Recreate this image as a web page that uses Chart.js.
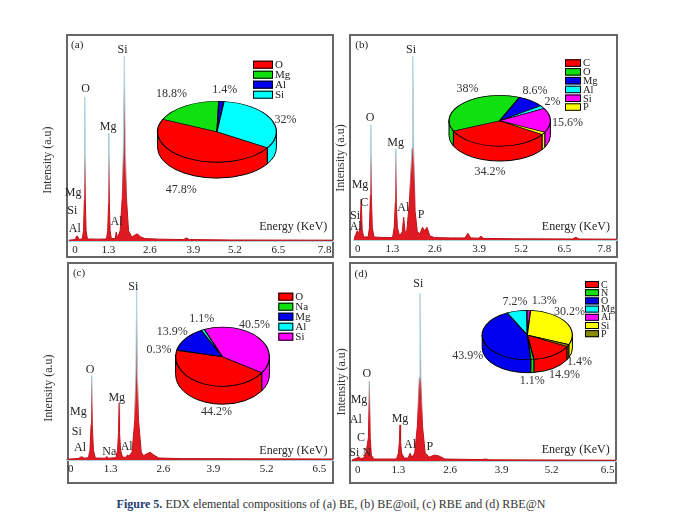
<!DOCTYPE html>
<html><head><meta charset="utf-8">
<script src="https://cdn.jsdelivr.net/npm/chart.js@4.4.1/dist/chart.umd.min.js"></script>
<style>
html,body{margin:0;padding:0;background:#fff;}
#wrap{position:relative;width:680px;height:525px;overflow:hidden;font-family:"Liberation Serif","Times New Roman",serif;}
.panel{position:absolute;border:2px solid #666;box-sizing:border-box;}
canvas{position:absolute;}
#cap{position:absolute;left:0;width:662px;top:497px;text-align:center;font-size:12px;line-height:14px;color:#333;}
#cap b{color:#1f3b73;}
</style></head><body>
<div id="wrap">
 <div class="panel" style="left:66px;top:34px;width:268px;height:224px"></div>
 <div class="panel" style="left:349px;top:34px;width:269px;height:224px"></div>
 <div class="panel" style="left:67px;top:262px;width:267px;height:222px"></div>
 <div class="panel" style="left:349px;top:262px;width:268px;height:222px"></div>
 <div id="cap"><b>Figure 5.</b> EDX elemental compositions of (a) BE, (b) BE@oil, (c) RBE and (d) RBE@N</div>
</div>
<script>
// ---------- tick labels (keV) ----------
const xTicksAB = [0, 1.3, 2.6, 3.9, 5.2, 6.5, 7.8];
const xTicksCD = [0, 1.3, 2.6, 3.9, 5.2, 6.5];

// ---------- spectra: [energy keV, intensity a.u. (0-100 of panel height)] ----------
const spectrumA = [[0,0.4],[0.2,0.7],[0.23,2.3],[0.27,2.3],[0.3,0.8],[0.41,1.0],[0.45,5],[0.475,20],[0.49,69.9],[0.505,20],[0.53,5],[0.57,1.0],[0.9,0.9],[1.16,1.0],[1.2,5],[1.225,18],[1.236,52.4],[1.25,18],[1.275,5],[1.31,1.2],[1.43,1.2],[1.465,4.4],[1.5,1.5],[1.585,5],[1.65,21],[1.685,47],[1.715,89.7],[1.745,47],[1.78,21],[1.845,5],[1.95,1.8],[2.0,2.5],[2.11,3.5],[2.22,2.0],[2.35,1.2],[2.8,0.9],[3.55,0.7],[3.64,1.5],[3.73,0.7],[5.0,0.5],[8.18,0.4]];
const spectrumB = [[0,0.5],[0.05,2.5],[0.1,4.5],[0.14,3],[0.19,6],[0.224,20],[0.255,5],[0.3,1.5],[0.44,1.5],[0.48,6],[0.51,22],[0.525,56.2],[0.54,22],[0.57,6],[0.62,1.5],[0.9,1.2],[1.2,1.2],[1.25,6],[1.285,18],[1.3,44.5],[1.315,18],[1.35,6],[1.42,2],[1.5,4],[1.545,11.1],[1.59,4],[1.64,4],[1.72,18],[1.805,45],[1.83,89.6],[1.855,45],[1.9,14],[1.97,4],[2.05,3],[2.13,6.2],[2.2,4.5],[2.27,6.2],[2.36,2],[2.5,1.2],[3.0,1.0],[3.45,1.0],[3.54,3.3],[3.63,1.0],[3.87,0.9],[3.95,1.8],[4.03,0.8],[5.0,0.6],[6.8,0.5],[6.9,1.3],[7.0,0.5],[8.18,0.4]];
const spectrumC = [[0,0.4],[0.3,0.8],[0.38,1.7],[0.45,0.9],[0.56,1.2],[0.6,5],[0.63,18],[0.645,42.8],[0.66,18],[0.69,5],[0.74,1],[1.0,0.9],[1.04,1.8],[1.08,0.9],[1.28,1.2],[1.32,5],[1.347,14],[1.36,28.8],[1.373,14],[1.4,5],[1.45,1.5],[1.53,1.3],[1.577,2.5],[1.62,2],[1.7,4],[1.77,20],[1.8,45],[1.82,89.7],[1.84,45],[1.87,20],[1.94,4],[2.0,2.2],[2.07,3],[2.17,3.9],[2.27,2.5],[2.4,1],[3.0,0.7],[6.95,0.5]];
const spectrumD = [[0,0.5],[0.13,1.5],[0.18,2.2],[0.23,1.2],[0.3,1.5],[0.34,3],[0.37,5],[0.425,12],[0.448,40.4],[0.47,12],[0.5,3],[0.56,1],[1.15,1],[1.2,4],[1.225,10],[1.24,18.2],[1.255,10],[1.28,4],[1.35,1.5],[1.45,1.5],[1.5,3.9],[1.55,1.8],[1.62,4],[1.69,18],[1.735,42],[1.756,84.7],[1.78,42],[1.82,18],[1.89,4],[2.0,2],[2.13,3.0],[2.25,2.5],[2.4,1.0],[3.35,0.7],[3.45,1.0],[3.55,0.6],[6.82,0.4]];

// ---------- peak annotations: [text, keV, intensity] ----------
const notesA = [['(a)',0.254,95.1],['Si',1.66,92.7],['O',0.514,74.1],['Mg',1.214,55.5],['Mg',0.13,23.4],['Si',0.10,14.6],['Al',0.18,5.8],['Al',1.475,9.4],['Energy (KeV)',6.95,6.65]];
const notesB = [['(b)',0.24,95.1],['Si',1.774,93.0],['O',0.498,59.4],['Mg',1.297,47.5],['Mg',0.187,26.8],['C',0.32,18.2],['Si',0.031,11.7],['Al',0.053,6.5],['Al',1.534,15.8],['P',2.085,12.5],['Energy (KeV)',6.90,6.2]];
const notesC = [['(c)',0.314,94.8],['Si',1.733,88.0],['O',0.60,46.0],['Mg',1.30,31.6],['Mg',0.295,24.2],['Si',0.254,14.4],['Al',0.34,6.2],['Na',1.106,4.2],['Al',1.56,6.75],['Energy (KeV)',5.915,4.7]];
const notesD = [['(d)',0.232,94.4],['Si',1.712,89.7],['O',0.38,43.8],['Mg',0.18,30.8],['Al',0.096,20.7],['C',0.232,11.5],['Si',0.06,3.9],['N',0.38,3.9],['Mg',1.24,21.1],['Al',1.50,8.4],['P',2.01,7.2],['Energy (KeV)',5.78,5.6]];

// ---------- pie compositions (%) ----------
const pieLabelsA = ['O','Mg','Al','Si'];
const pieValuesA = [47.8, 18.8, 1.4, 32];
const pieTextA = ['47.8%','18.8%','1.4%','32%'];
const pieLabelsB = ['C','O','Mg','Al','Si','P'];
const pieValuesB = [34.2, 38, 8.6, 2, 15.6, 1.6];
const pieTextB = ['34.2%','38%','8.6%','2%','15.6%',''];
const pieLabelsC = ['O','Na','Mg','Al','Si'];
const pieValuesC = [44.2, 0.3, 13.9, 1.1, 40.5];
const pieTextC = ['44.2%','0.3%','13.9%','1.1%','40.5%'];
const pieLabelsD = ['C','N','O','Mg','Al','Si','P'];
const pieValuesD = [14.9, 1.1, 43.9, 7.2, 1.3, 30.2, 1.4];
const pieTextD = ['14.9%','1.1%','43.9%','7.2%','1.3%','30.2%','1.4%'];

const RED='#ff0000', GRN='#10e010', BLU='#0000ee', CYA='#00ffff', MAG='#ff00ff', YEL='#ffff00', OLV='#8b8b00';
const pieColorsA = [RED, GRN, BLU, CYA];
const pieColorsB = [RED, GRN, BLU, CYA, MAG, YEL];
const pieColorsC = [RED, GRN, BLU, CYA, MAG];
const pieColorsD = [RED, GRN, BLU, CYA, MAG, YEL, OLV];

Chart.defaults.font.family = '"Liberation Serif", "Times New Roman", serif';
Chart.defaults.color = '#222';
const wrap = document.getElementById('wrap');
const SERIF = '"Liberation Serif", "Times New Roman", serif';

function lineGradient(chart) {
  const a = chart.chartArea;
  if (!a) return '#c01018';
  const g = chart.ctx.createLinearGradient(0, a.bottom, 0, a.top);
  g.addColorStop(0, '#b8121a');
  g.addColorStop(0.2, '#c8151d');
  g.addColorStop(0.42, '#9fcbd5');
  g.addColorStop(1, '#b5dce4');
  return g;
}

function textPlugin(p) {
  return {
    id: 'edxText',
    beforeDraw(chart) {
      // small horizontal nudges of the tick labels, as placed in the original figure
      const s = chart.scales.x;
      if (!s || typeof s.getLabelItems !== 'function') return;
      try {
        const items = s.getLabelItems(chart.chartArea);
        items.forEach((it, i) => {
          const n = p.tickNudge[i] || 0;
          if (it.options && it.options.translation) it.options.translation[0] += n;
        });
      } catch (e) {}
    },
    afterDraw(chart) {
      const {ctx, scales} = chart;
      const x = scales.x, y = scales.y;
      ctx.save();
      ctx.fillStyle = '#262626';
      ctx.textAlign = 'center';
      ctx.textBaseline = 'middle';
      p.notes.forEach(([t, kv, val]) => {
        ctx.font = (/^\([a-d]\)$/.test(t) ? '11px ' : '12px ') + SERIF;
        ctx.fillText(t, x.getPixelForValue(kv), y.getPixelForValue(val));
      });
      const tx = x.getPixelForValue(p.yTitle[0]), ty = y.getPixelForValue(p.yTitle[1]);
      ctx.translate(tx, ty);
      ctx.rotate(-Math.PI / 2);
      ctx.font = '12px ' + SERIF;
      ctx.fillStyle = '#333';
      ctx.fillText('Intensity (a.u)', 0, 0);
      ctx.restore();
    }
  };
}

function makeSpectrum(p) {
  const padL = 30, padR = 12, axH = 20;
  const cv = document.createElement('canvas');
  const w = p.right - p.left + padL + padR, h = p.base - p.top + axH;
  cv.width = w; cv.height = h;
  cv.style.left = (p.left - padL) + 'px';
  cv.style.top = p.top + 'px';
  cv.style.width = w + 'px'; cv.style.height = h + 'px';
  wrap.appendChild(cv);
  new Chart(cv, {
    type: 'line',
    data: { datasets: [{
      data: p.spectrum.map(([e, v]) => ({x: e, y: v})),
      borderColor: (c) => lineGradient(c.chart),
      backgroundColor: '#e01a22',
      borderWidth: 1,
      fill: 'origin',
      pointRadius: 0,
      tension: 0
    }]},
    options: {
      responsive: false, animation: false, events: [],
      layout: { padding: { left: padL, right: padR, top: 0, bottom: 0 } },
      plugins: { legend: { display: false }, tooltip: { enabled: false } },
      scales: {
        x: {
          type: 'linear', min: 0, max: p.max,
          afterBuildTicks: (s) => { s.ticks = p.ticks.map(v => ({ value: v })); },
          afterFit: (s) => { s.height = axH; },
          grid: { display: false, drawTicks: false },
          border: { display: true, color: '#a7d2de', width: 2 },
          ticks: { padding: 3, autoSkip: false, maxRotation: 0, color: '#222',
                   font: { size: 11, family: SERIF }, callback: (v) => String(v) }
        },
        y: { display: false, min: 0, max: 100 }
      }
    },
    plugins: [textPlugin(p)]
  });
}

function pie3d(p, offX, offY) {
  const TWO = Math.PI * 2;
  return {
    id: 'pie3d',
    beforeDatasetsDraw(chart) {
      const ctx = chart.ctx, meta = chart.getDatasetMeta(0);
      const k = p.k, d = p.depth;
      ctx.save();
      ctx.lineWidth = 1; ctx.strokeStyle = '#000'; ctx.lineJoin = 'round';
      meta.data.forEach((arc) => {
        let s = arc.startAngle, e = arc.endAngle;
        const rx = arc.outerRadius, ry = rx * k, x = arc.x, y = arc.y;
        while (s < 0) { s += TWO; e += TWO; }
        while (s >= TWO) { s -= TWO; e -= TWO; }
        [[0, Math.PI], [TWO, TWO + Math.PI]].forEach(([lo, hi]) => {
          const a0 = Math.max(s, lo), a1 = Math.min(e, hi);
          if (a1 - a0 <= 1e-6) return;
          ctx.beginPath();
          ctx.ellipse(x, y, rx, ry, 0, a0, a1, false);
          ctx.lineTo(x + rx * Math.cos(a1), y + ry * Math.sin(a1) + d);
          ctx.ellipse(x, y + d, rx, ry, 0, a1, a0, true);
          ctx.closePath();
          ctx.fillStyle = arc.options.backgroundColor;
          ctx.fill();
          ctx.stroke();
        });
      });
      ctx.restore();
      const c0 = meta.data[0];
      ctx.save();
      ctx.translate(c0.x, c0.y); ctx.scale(1, k); ctx.translate(-c0.x, -c0.y);
    },
    afterDatasetsDraw(chart) { chart.ctx.restore(); },
    afterDraw(chart) {
      const ctx = chart.ctx, meta = chart.getDatasetMeta(0);
      ctx.save();
      ctx.font = '12px ' + SERIF; ctx.fillStyle = '#333';
      ctx.textAlign = 'center'; ctx.textBaseline = 'middle';
      meta.data.forEach((arc, i) => {
        const t = p.pct[i]; if (!t) return;
        const m = (arc.startAngle + arc.endAngle) / 2;
        const rx = arc.outerRadius, ry = rx * p.k;
        const nd = p.labelNudge[i] || [0, 0];
        const sx = arc.x + 1.28 * rx * Math.cos(m) + nd[0];
        const sy = arc.y + 1.38 * ry * Math.sin(m) + (Math.sin(m) > 0 ? p.depth : 0) + nd[1];
        ctx.fillText(t, sx, sy);
      });
      const L = p.legend;
      ctx.textAlign = 'left';
      ctx.font = L.font + 'px ' + SERIF;
      p.labels.forEach((lab, i) => {
        const bx = L.x - offX, by = L.y - offY + i * L.row;
        ctx.fillStyle = p.colors[i]; ctx.fillRect(bx, by, L.bw, L.bh);
        ctx.strokeStyle = '#000'; ctx.lineWidth = 1; ctx.strokeRect(bx + 0.5, by + 0.5, L.bw - 1, L.bh - 1);
        ctx.fillStyle = '#222'; ctx.fillText(lab, bx + L.bw + 2, by + L.bh / 2 + 0.5);
      });
      ctx.restore();
    }
  };
}

function makePie(p) {
  const left = p.box[0] + 2, top = p.box[1] + 2, w = p.box[2] - 4, h = p.box[3] - 4;
  const cv = document.createElement('canvas');
  cv.width = w; cv.height = h;
  cv.style.left = left + 'px'; cv.style.top = top + 'px';
  cv.style.width = w + 'px'; cv.style.height = h + 'px';
  wrap.appendChild(cv);
  new Chart(cv, {
    type: 'pie',
    data: { labels: p.labels, datasets: [{ data: p.values, backgroundColor: p.colors, borderColor: '#000', borderWidth: 1.2 }] },
    options: {
      responsive: false, animation: false, events: [],
      rotation: p.rotation,
      layout: { padding: { left: p.cx - p.a - left, top: p.cy - p.a - top,
                           right: left + w - (p.cx + p.a), bottom: top + h - (p.cy + p.a) } },
      plugins: { legend: { display: false }, tooltip: { enabled: false } }
    },
    plugins: [pie3d(p, left, top)]
  });
}

const panels = [
  { left: 69, right: 333, top: 35, base: 241, max: 8.18, ticks: xTicksAB, spectrum: spectrumA, notes: notesA, yTitle: [-0.641, 39.3],
    tickNudge: [6, -2.7, -3, -1.6, -2, -0.5, 4] },
  { left: 354, right: 617, top: 35, base: 240, max: 8.18, ticks: xTicksAB, spectrum: spectrumB, notes: notesB, yTitle: [-0.404, 40],
    tickNudge: [3.7, -3.5, -2.6, -0.3, 0, 1.4, -0.4] },
  { left: 67, right: 333, top: 263, base: 460, max: 6.95, ticks: xTicksCD, spectrum: spectrumC, notes: notesC, yTitle: [-0.463, 36.5],
    tickNudge: [3.7, -6.1, -3.2, -3, 0.7, 3.5] },
  { left: 352, right: 616, top: 263, base: 461, max: 6.82, ticks: xTicksCD, spectrum: spectrumD, notes: notesD, yTitle: [-0.266, 40.0],
    tickNudge: [5.7, -4, -2.6, -1.3, -1.6, 4.1] }
];
panels.forEach(makeSpectrum);

const pies = [
  { box: [66, 34, 268, 224], cx: 217, cy: 131.7, a: 60, k: 0.512, depth: 16, rotation: 122,
    labels: pieLabelsA, values: pieValuesA, colors: pieColorsA, pct: pieTextA,
    labelNudge: [[0, 5.6], [-5, -2], [2, 0], [0, 6]],
    legend: { x: 253, y: 60.7, bw: 20, bh: 8, row: 10, font: 11 } },
  { box: [349, 34, 269, 224], cx: 499.7, cy: 120.7, a: 51.3, k: 0.50, depth: 15, rotation: 123,
    labels: pieLabelsB, values: pieValuesB, colors: pieColorsB, pct: pieTextB,
    labelNudge: [[-4.6, 1.6], [14, -7.6], [-5, -2], [-2, 0], [3, 3], [0, 0]],
    legend: { x: 565, y: 59.3, bw: 16, bh: 7.5, row: 8.8, font: 10.5 } },
  { box: [67, 262, 267, 222], cx: 222.5, cy: 356.7, a: 47.5, k: 0.63, depth: 18, rotation: 123,
    labels: pieLabelsC, values: pieValuesC, colors: pieColorsC, pct: pieTextC,
    labelNudge: [[17, -1], [-5, 2], [-3, 0], [4.5, -1], [-14, -6]],
    legend: { x: 278.3, y: 292.7, bw: 15, bh: 8, row: 10, font: 11 } },
  { box: [349, 262, 268, 222], cx: 527.3, cy: 335, a: 45.7, k: 0.547, depth: 13, rotation: 118,
    labels: pieLabelsD, values: pieValuesD, colors: pieColorsD, pct: pieTextD,
    labelNudge: [[4, -1], [-1.5, -1], [-4, -1.5], [1, 0], [15, 0], [-7, -5], [0, -1]],
    legend: { x: 585, y: 281, bw: 14, bh: 7, row: 8.2, font: 10 } }
];
pies.forEach(makePie);
</script>
</body></html>
